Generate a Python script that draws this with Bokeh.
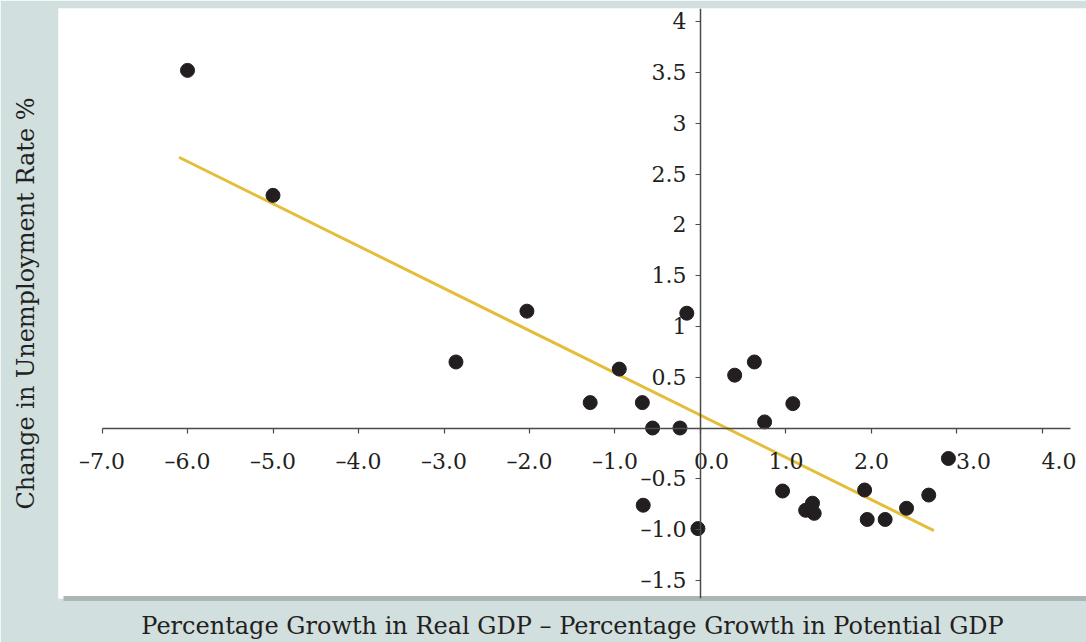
from bokeh.plotting import figure
from bokeh.models import Range1d, LinearAxis, FixedTicker, Title
from bokeh.embed import file_html
from bokeh.resources import INLINE

# ---- data ----
gdp_gap = [-6.0, -5.0, -2.86, -2.03, -1.29, -0.95, -0.68, -0.56, -0.24, -0.16,
           -0.67, -0.03, 0.40, 0.63, 0.75, 1.08, 0.96, 1.23, 1.31, 1.33,
           1.92, 1.95, 2.16, 2.41, 2.67, 2.90]
unemp_change = [3.52, 2.29, 0.65, 1.15, 0.25, 0.58, 0.25, 0.0, 0.0, 1.13,
                -0.76, -0.99, 0.52, 0.65, 0.06, 0.24, -0.62, -0.81, -0.74, -0.84,
                -0.61, -0.90, -0.90, -0.79, -0.66, -0.30]
trend_x = [-6.1, 2.73]
trend_y = [2.665, -1.01]

x_ticks = [-7, -6, -5, -4, -3, -2, -1, 0, 1, 2, 3, 4]
x_tick_labels = ["\u20137.0", "\u20136.0", "\u20135.0", "\u20134.0", "\u20133.0", "\u20132.0",
                 "\u20131.0", "\u2002\u20020.0", "1.0", "2.0", "\u2002\u2002\u20023.0",
                 "\u2002\u2002\u20024.0"]
y_ticks = [-1.5, -1, -0.5, 0.5, 1, 1.5, 2, 2.5, 3, 3.5, 4]
y_tick_labels = ["\u20131.5", "\u20131.0", "\u20130.5", "0.5", "1", "1.5", "2", "2.5", "3", "3.5", "4"]

x_title = "Percentage Growth in Real GDP \u2013 Percentage Growth in Potential GDP"
y_title = "Change in Unemployment Rate %"

BG = "#d2dfdf"
INK = "#231f20"
AXIS = "#4a4a4a"
FONT = "DejaVu Serif"

p = figure(width=1086, height=642,
           x_range=Range1d(-7.509, 4.515), y_range=Range1d(-1.678, 4.129),
           output_backend="svg", toolbar_location=None,
           x_axis_location=None, y_axis_location=None,
           min_border_left=58, min_border_right=0, min_border_top=8, min_border_bottom=44,
           background_fill_color="white", border_fill_color=BG,
           outline_line_color=None)
try:
    p.xgrid.visible = False
    p.ygrid.visible = False
except Exception:
    pass

# axes crossing at the origin
xaxis = LinearAxis(fixed_location=0, ticker=FixedTicker(ticks=x_ticks),
                   bounds=(-7, 4.33),
                   major_label_overrides={t: l for t, l in zip(x_ticks, x_tick_labels)})
yaxis = LinearAxis(fixed_location=0, ticker=FixedTicker(ticks=y_ticks),
                   major_label_overrides={t: l for t, l in zip(y_ticks, y_tick_labels)})
for ax in (xaxis, yaxis):
    ax.axis_line_color = AXIS
    ax.axis_line_width = 1.5
    ax.major_tick_line_color = AXIS
    ax.major_tick_line_width = 1.2
    ax.major_tick_out = 5
    ax.major_tick_in = 0
    ax.minor_tick_line_color = None
    ax.major_label_text_font = FONT
    ax.major_label_text_font_size = "22px"
    ax.major_label_text_color = INK
xaxis.major_label_standoff = 16
yaxis.major_label_standoff = 9
p.add_layout(xaxis, "below")
p.add_layout(yaxis, "left")


# invisible spacer axes: push the titles away from the panel
# (the bottom one's line doubles as the panel's drop shadow)
def spacer(depth, line_color, line_width, bounds="auto"):
    return LinearAxis(ticker=FixedTicker(ticks=[0]), bounds=bounds,
                      major_tick_out=depth, major_tick_in=0,
                      minor_tick_out=0, minor_tick_in=0,
                      major_tick_line_color=None, minor_tick_line_color=None,
                      axis_line_color=line_color, axis_line_width=line_width,
                      major_label_overrides={0: ""}, major_label_standoff=0,
                      major_label_text_font_size="1px", major_label_text_alpha=0)


p.add_layout(spacer(11, "#aab7b6", 5, (-7.45, 4.515)), "below")
p.add_layout(spacer(19, None, 1), "left")

p.line(trend_x, trend_y, line_color="#e4be3b", line_width=3)
p.scatter(gdp_gap, unemp_change, size=14, fill_color=INK, line_color=INK)

tb = Title(text=x_title, align="center", text_font=FONT, text_font_size="24px",
           text_font_style="normal", text_color=INK, standoff=0)
p.add_layout(tb, "below")
tl = Title(text=y_title, align="center", text_font=FONT, text_font_size="24px",
           text_font_style="normal", text_color=INK, standoff=0)
p.add_layout(tl, "left")

open("out.html", "w").write(file_html(p, INLINE))
